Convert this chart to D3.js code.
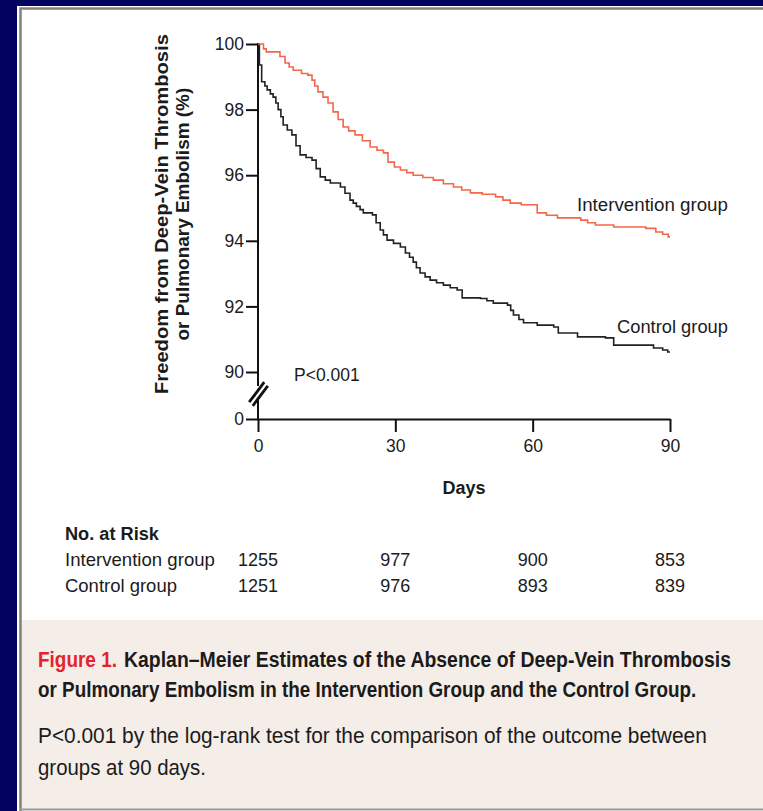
<!DOCTYPE html>
<html>
<head>
<meta charset="utf-8">
<script src="https://cdn.jsdelivr.net/npm/d3@7"></script>
<style>
  html, body { margin: 0; padding: 0; background: #02025f; }
  svg { display: block; }
  text { font-family: "Liberation Sans Narrow", "Liberation Sans", Arial, sans-serif; fill: #1b1b1b; }
</style>
</head>
<body>
<svg id="chart" width="763" height="811"></svg>
<script>
// Kaplan-Meier steps: [day, % free of DVT/PE]
var interventionSteps = [[0,100],[1.2,99.85],[1.8,99.76],[4.8,99.62],[5.9,99.42],[6.8,99.3],[7.7,99.2],
  [9.5,99.1],[10.9,99.05],[11.8,98.9],[12.4,98.72],[13.1,98.54],[14.2,98.38],[15.3,98.2],[16.4,97.93],
  [17.5,97.7],[18.6,97.47],[19.8,97.35],[21.2,97.23],[22.8,97.05],[24.5,96.86],[26,96.76],[27.4,96.68],
  [28.4,96.4],[29.8,96.25],[31.1,96.16],[32.5,96.08],[33.9,96.0],[36,95.93],[38.3,95.85],[40.5,95.74],
  [42.7,95.64],[44.5,95.55],[46.4,95.46],[49,95.42],[51.9,95.34],[53.5,95.24],[55.1,95.15],[57.5,95.1],
  [61,94.85],[63,94.78],[65.4,94.7],[70.5,94.63],[72,94.55],[73.7,94.48],[77.7,94.42],[84.7,94.38],
  [86.9,94.27],[88.4,94.2],[89.6,94.12],[90,94.12]];
var controlSteps = [[0,100],[0.3,99.36],[0.8,98.85],[1.5,98.72],[2,98.6],[2.7,98.48],[3.3,98.38],[3.9,98.2],
  [4.4,98.0],[5,97.78],[5.5,97.53],[6.4,97.38],[7.4,97.23],[8.3,96.9],[9.2,96.62],[10.5,96.54],[11.8,96.46],
  [12.7,96.2],[13.6,95.95],[14.7,95.85],[15.8,95.76],[18,95.64],[19,95.45],[20.1,95.24],[20.8,95.15],
  [21.5,95.05],[22.3,94.95],[23,94.85],[25,94.79],[25.8,94.55],[26.7,94.33],[27.4,94.18],[28.2,94.02],
  [29.6,93.92],[31.1,93.81],[32.2,93.63],[33.1,93.5],[33.9,93.35],[34.6,93.18],[35.4,93.02],[36.5,92.9],
  [37.6,92.8],[39,92.72],[40.5,92.65],[42,92.57],[43.5,92.5],[44.6,92.26],[48.6,92.24],[50,92.17],
  [51.4,92.1],[54.5,92.04],[55.2,91.88],[55.8,91.74],[57,91.6],[58,91.5],[61,91.43],[64.6,91.37],
  [65.6,91.19],[69.8,91.07],[75.9,91.04],[77.7,90.82],[86.4,90.73],[88.4,90.67],[89.5,90.61],[90,90.61]];

var xTicks = [0, 30, 60, 90];
var yTicks = [0, 90, 92, 94, 96, 98, 100];
var riskGroups = ["Intervention group", "Control group"];
var riskIntervention = [1255, 977, 900, 853];
var riskControl = [1251, 976, 893, 839];

var svg = d3.select("#chart");

// squeeze a text horizontally to a given width (the source font is condensed)
function fitText(parent, str, px, py, w, size, weight) {
  var t = parent.append("text").attr("font-size", size).attr("font-weight", weight || "normal").text(str);
  var len = t.node().getComputedTextLength();
  t.attr("transform", "translate(" + px + "," + py + ") scale(" + (w / len) + ",1)");
  return t;
}

// page panel
svg.append("rect").attr("x", 17).attr("y", 6).attr("width", 746).attr("height", 805).attr("fill", "#ffffff");
svg.append("rect").attr("x", 22).attr("y", 620).attr("width", 741).attr("height", 189).attr("fill", "#f5ede7");
svg.append("path").attr("d", "M20.5,811V8.5H763").attr("fill", "none").attr("stroke", "#808080").attr("stroke-width", 2.5);
svg.append("line").attr("x1", 20).attr("x2", 763).attr("y1", 809.5).attr("y2", 809.5).attr("stroke", "#9a9a9a").attr("stroke-width", 2);

var x = d3.scaleLinear().domain([0, 90]).range([258, 670]);
// broken axis: 0..90 squeezed, 90..100 linear
var y = d3.scaleLinear().domain([0, 90, 100]).range([419, 372, 44]);

// y axis
var gy = svg.append("g").attr("transform", "translate(" + x(0) + ",0)")
  .call(d3.axisLeft(y).tickValues(yTicks).tickSize(12).tickPadding(2));
gy.select(".domain").remove();
gy.selectAll(".tick line").attr("stroke", "#111").attr("stroke-width", 2);
gy.selectAll(".tick text").attr("font-size", 17.5).attr("fill", "#1b1b1b")
  .style("font-family", '"Liberation Sans Narrow", "Liberation Sans", sans-serif');

svg.append("line").attr("x1", x(0)).attr("x2", x(0)).attr("y1", y(100) - 1).attr("y2", y(90) + 14)
  .attr("stroke", "#111").attr("stroke-width", 2);
svg.append("line").attr("x1", x(0)).attr("x2", x(0)).attr("y1", y(0) - 21).attr("y2", y(0))
  .attr("stroke", "#111").attr("stroke-width", 2);
// axis break marks
[-1.8, 1.8].forEach(function (o) {
  svg.append("line").attr("x1", x(0) - 7 + o).attr("y1", y(0) - 15 + o)
    .attr("x2", x(0) + 8 + o).attr("y2", y(0) - 35 + o)
    .attr("stroke", "#111").attr("stroke-width", 2.8);
});

// x axis
var gx = svg.append("g").attr("transform", "translate(0," + y(0) + ")")
  .call(d3.axisBottom(x).tickValues(xTicks).tickSize(13).tickSizeOuter(0).tickPadding(8));
gx.select(".domain").attr("stroke", "#111").attr("stroke-width", 2);
gx.selectAll(".tick line").attr("stroke", "#111").attr("stroke-width", 2);
gx.selectAll(".tick text").attr("font-size", 17.5).attr("fill", "#1b1b1b")
  .style("font-family", '"Liberation Sans Narrow", "Liberation Sans", sans-serif');

// curves
var line = d3.line().x(function (d) { return x(d[0]); }).y(function (d) { return y(d[1]); })
  .curve(d3.curveStepAfter);
svg.append("path").datum(controlSteps).attr("d", line)
  .attr("fill", "none").attr("stroke", "#222").attr("stroke-width", 1.6);
svg.append("path").datum(interventionSteps).attr("d", line)
  .attr("fill", "none").attr("stroke", "#f3674a").attr("stroke-width", 1.6);

// labels
fitText(svg, "Intervention group", 577, 211, 151, 19);
fitText(svg, "Control group", 617, 333, 111, 19);
svg.append("text").attr("x", 294).attr("y", 381).attr("font-size", 17.5).text("P<0.001");
svg.append("text").attr("x", 464).attr("y", 494).attr("text-anchor", "middle")
  .attr("font-size", 18).attr("font-weight", "bold").text("Days");

var yTitle = svg.append("g").attr("transform", "translate(0,214) rotate(-90)");
fitText(yTitle, "Freedom from Deep-Vein Thrombosis", -180, 168, 360, 19, "bold");
fitText(yTitle, "or Pulmonary Embolism (%)", -126.5, 189, 253, 19, "bold");

// number at risk
fitText(svg, "No. at Risk", 65, 540, 94, 19, "bold");
var rowY = [566, 592];
var rowLen = [150, 112];
[riskIntervention, riskControl].forEach(function (vals, r) {
  fitText(svg, riskGroups[r], 65, rowY[r], rowLen[r], 19);
  svg.selectAll(".risk" + r).data(vals).enter().append("text")
    .attr("class", "risk" + r)
    .attr("x", function (d, i) { return x(xTicks[i]); })
    .attr("y", rowY[r]).attr("text-anchor", "middle").attr("font-size", 18)
    .text(function (d) { return d; });
});

// caption
fitText(svg, "Figure 1.", 38, 667, 79, 22, "bold").style("fill", "#e3232d");
fitText(svg, "Kaplan\u2013Meier Estimates of the Absence of Deep-Vein Thrombosis", 124, 667, 607, 22, "bold");
fitText(svg, "or Pulmonary Embolism in the Intervention Group and the Control Group.", 38, 697, 659, 22, "bold");
fitText(svg, "P<0.001 by the log-rank test for the comparison of the outcome between", 38, 743, 669, 22);
fitText(svg, "groups at 90 days.", 38, 775, 168, 22);
</script>
</body>
</html>
